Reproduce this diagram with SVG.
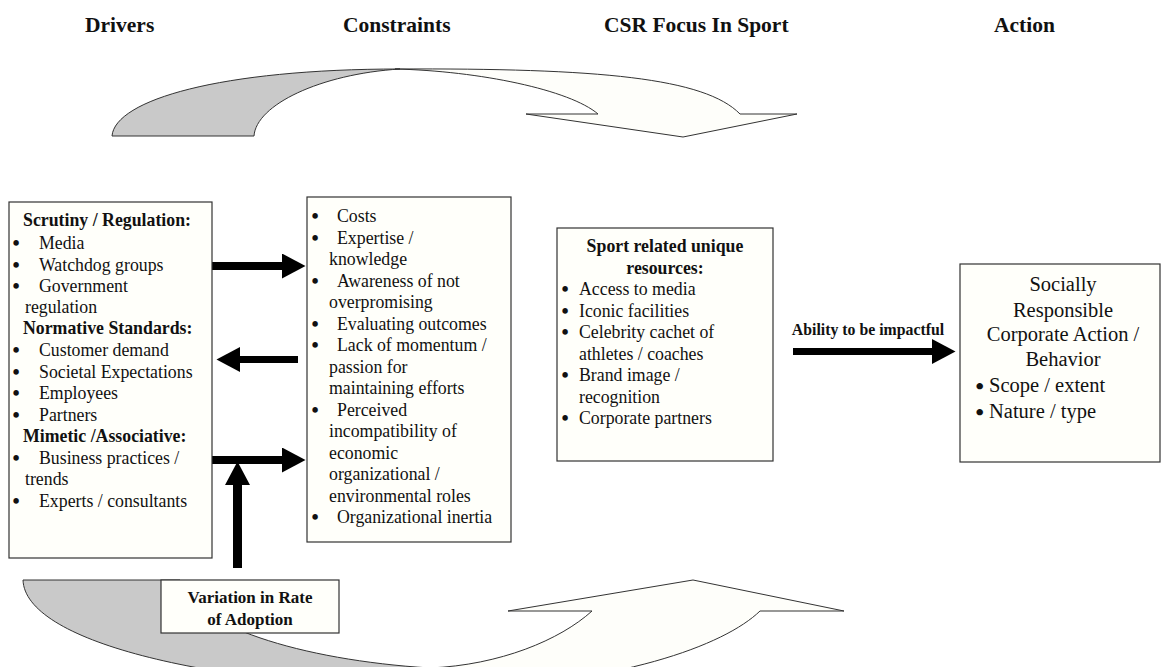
<svg xmlns="http://www.w3.org/2000/svg" width="1161" height="667" viewBox="0 0 1161 667">
<style>
  text { font-family: "Liberation Serif", "Times New Roman", serif; fill: #111; }
  .hdr { font-size: 21.5px; font-weight: bold; }
  .b { font-size: 17.8px; }
  .bb { font-size: 17.8px; font-weight: bold; }
  .a { font-size: 20.5px; }
  .blt { font-size: 20.5px; font-weight: bold; }
  .blta { font-size: 24px; font-weight: bold; }
  .box { fill: #fffffa; stroke: #333; stroke-width: 1.2; }
  .gray { fill: #c9c9c9; stroke: #333; stroke-width: 1; }
  .white { fill: #fefefa; stroke: #333; stroke-width: 1; }
  .conn { stroke: #000; stroke-width: 8; fill: none; marker-end: url(#head); }
</style>
<defs>
  <marker id="head" markerUnits="userSpaceOnUse" markerWidth="24" markerHeight="25" refX="0" refY="12.5" orient="auto">
    <path d="M0,0 L23.5,12.5 L0,25 Z" fill="#000"/>
  </marker>
</defs>
<rect width="1161" height="667" fill="#fff"/>

<g id="headers">
  <text class="hdr" x="85" y="32">Drivers</text>
  <text class="hdr" x="343" y="32">Constraints</text>
  <text class="hdr" x="604" y="32">CSR Focus In Sport</text>
  <text class="hdr" x="994" y="32">Action</text>
</g>

<g id="top-cycle-arrow">
  <path class="gray" d="M112,136 C115,100 220,69 400,69 C320,74 256,105 254,136 Z"/>
  <path class="white" d="M395,69 C600,68 705,78 740,114 L797,114 L683,137 L526,114 L598,114 C570,90 480,71 395,69 Z"/>
</g>

<g id="bottom-cycle-arrow">
  <path class="gray" d="M23,580 L180,580 C190,625 300,660 430,668 L440,690 C200,685 25,640 23,580 Z"/>
  <path class="white" d="M430,668 C500,665 560,640 592,611 L508,611 L693,580 L844,611 L760,611 C725,645 620,685 440,690 Z"/>
</g>

<g id="connectors">
  <line class="conn" x1="212" y1="266" x2="282" y2="266"/>
  <line class="conn" x1="298" y1="359.5" x2="240" y2="359.5" style="stroke-width:7"/>
  <line class="conn" x1="212" y1="460" x2="282" y2="460"/>
  <line class="conn" x1="237.5" y1="568" x2="237.5" y2="485" style="stroke-width:9"/>
  <line class="conn" x1="793" y1="351.5" x2="932" y2="351.5" style="stroke-width:7"/>
  <text x="868" y="335" text-anchor="middle" style="font-size:15.8px;font-weight:bold">Ability to be impactful</text>
</g>

<g id="drivers">
  <rect class="box" x="9" y="202" width="203" height="356"/>
  <text class="bb" x="23" y="226">Scrutiny / Regulation:</text>
  <text class="b" x="39" y="249">Media</text>
  <text class="b" x="39" y="271">Watchdog groups</text>
  <text class="b" x="39" y="292">Government</text>
  <text class="b" x="25" y="313">regulation</text>
  <text class="bb" x="23" y="334">Normative Standards:</text>
  <text class="b" x="39" y="356">Customer demand</text>
  <text class="b" x="39" y="378">Societal Expectations</text>
  <text class="b" x="39" y="399">Employees</text>
  <text class="b" x="39" y="421">Partners</text>
  <text class="bb" x="23" y="442">Mimetic /Associative:</text>
  <text class="b" x="39" y="464">Business practices /</text>
  <text class="b" x="25" y="485">trends</text>
  <text class="b" x="39" y="507">Experts / consultants</text>
  <text class="blt" x="12.4" y="250">•</text>
  <text class="blt" x="12.4" y="272">•</text>
  <text class="blt" x="12.4" y="293">•</text>
  <text class="blt" x="12.4" y="357">•</text>
  <text class="blt" x="12.4" y="379">•</text>
  <text class="blt" x="12.4" y="400">•</text>
  <text class="blt" x="12.4" y="422">•</text>
  <text class="blt" x="12.4" y="465">•</text>
  <text class="blt" x="12.4" y="508">•</text>
</g>

<g id="constraints">
  <rect class="box" x="307" y="197" width="204" height="345"/>
  <text class="b" x="337" y="222">Costs</text>
  <text class="b" x="337" y="243.5">Expertise /</text>
  <text class="b" x="329" y="265">knowledge</text>
  <text class="b" x="337" y="286.5">Awareness of not</text>
  <text class="b" x="329" y="308">overpromising</text>
  <text class="b" x="337" y="329.5">Evaluating outcomes</text>
  <text class="b" x="337" y="351">Lack of momentum /</text>
  <text class="b" x="329" y="372.5">passion for</text>
  <text class="b" x="329" y="394">maintaining efforts</text>
  <text class="b" x="337" y="415.5">Perceived</text>
  <text class="b" x="329" y="437">incompatibility of</text>
  <text class="b" x="329" y="458.5">economic</text>
  <text class="b" x="329" y="480">organizational /</text>
  <text class="b" x="329" y="501.5">environmental roles</text>
  <text class="b" x="337" y="523">Organizational inertia</text>
  <text class="blt" x="311.4" y="223">•</text>
  <text class="blt" x="311.4" y="244.5">•</text>
  <text class="blt" x="311.4" y="287.5">•</text>
  <text class="blt" x="311.4" y="330.5">•</text>
  <text class="blt" x="311.4" y="352">•</text>
  <text class="blt" x="311.4" y="416.5">•</text>
  <text class="blt" x="311.4" y="524">•</text>
</g>

<g id="sport-resources">
  <rect class="box" x="557" y="228" width="216" height="233"/>
  <text class="bb" x="665" y="252" text-anchor="middle">Sport related unique</text>
  <text class="bb" x="665" y="273.5" text-anchor="middle">resources:</text>
  <text class="b" x="579" y="295">Access to media</text>
  <text class="b" x="579" y="316.5">Iconic facilities</text>
  <text class="b" x="579" y="338">Celebrity cachet of</text>
  <text class="b" x="579" y="359.5">athletes / coaches</text>
  <text class="b" x="579" y="381">Brand image /</text>
  <text class="b" x="579" y="402.5">recognition</text>
  <text class="b" x="579" y="424">Corporate partners</text>
  <text class="blt" x="561.4" y="296">•</text>
  <text class="blt" x="561.4" y="317.5">•</text>
  <text class="blt" x="561.4" y="339">•</text>
  <text class="blt" x="561.4" y="382">•</text>
  <text class="blt" x="561.4" y="425">•</text>
</g>

<g id="action">
  <rect class="box" x="960" y="264" width="200" height="198"/>
  <text class="a" x="1063" y="291" text-anchor="middle">Socially</text>
  <text class="a" x="1063" y="316.5" text-anchor="middle">Responsible</text>
  <text class="a" x="1063" y="341" text-anchor="middle">Corporate Action /</text>
  <text class="a" x="1063" y="366" text-anchor="middle">Behavior</text>
  <text class="a" x="989" y="392">Scope / extent</text>
  <text class="a" x="989" y="418">Nature / type</text>
  <text class="blta" x="975.5" y="393.5">•</text>
  <text class="blta" x="975.5" y="419.5">•</text>
</g>

<g id="variation">
  <rect class="box" x="161" y="580" width="178" height="53"/>
  <text x="250" y="603" text-anchor="middle" style="font-size:17px;font-weight:bold">Variation in Rate</text>
  <text x="250" y="625" text-anchor="middle" style="font-size:17px;font-weight:bold">of Adoption</text>
</g>
</svg>
